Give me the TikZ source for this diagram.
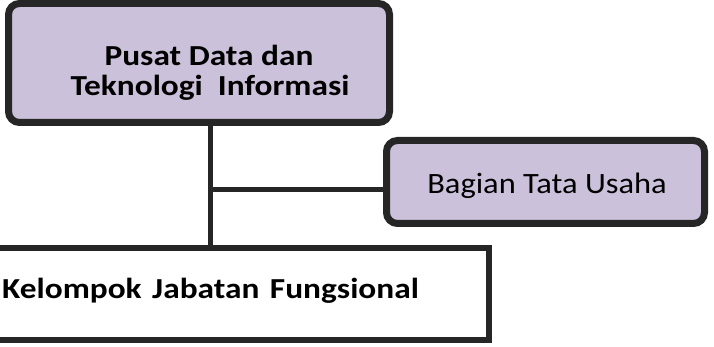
\documentclass[tikz,border=0pt]{standalone}
\usepackage{fontspec}
\setmainfont[FakeStretch=1.1,BoldFeatures={FakeStretch=1.15}]{Carlito}
\definecolor{boxfill}{HTML}{CCC1DA}
\definecolor{edge}{HTML}{262626}
\begin{document}
\begin{tikzpicture}[x=1pt,y=-1pt,
  purplebox/.style={draw=edge,fill=boxfill,line width=7pt,rounded corners=11pt,inner sep=0pt},
  whitebox/.style={draw=edge,fill=white,line width=5.5pt,inner sep=0pt},
  label/.style={inner sep=0pt,anchor=base},
  connector/.style={draw=edge,line width=5pt}]
\useasboundingbox (0,0) rectangle (714,347);
\node[purplebox,minimum width=381pt,minimum height=119pt] (pusat) at (199,63) {};
\node[purplebox,minimum width=318pt,minimum height=83pt] (tu) at (545.5,182) {};
\coordinate (top) at (210,122);
\coordinate (junction) at (210,190);
\coordinate (bottom) at (210,248);
\draw[connector] (top) -- (bottom);
\draw[connector] (junction) -- (tu.west |- junction);
\node[whitebox,minimum width=499pt,minimum height=92pt] (jf) at (239.5,294) {};
\node[label,font=\fontsize{29}{30}\bfseries] (pusat1) at (209,66) {Pusat Data dan};
\node[label,font=\fontsize{29}{30}\bfseries] (pusat2) at (210,95.5) {Teknologi\ \ Informasi};
\node[label,font=\fontsize{29.5}{30}\selectfont] (tutext) at (547,194) {Bagian Tata Usaha};
\node[label,anchor=base west,font=\fontsize{29}{30}\bfseries] (jftext) at (2,298) {Kelompok\ \hspace{3pt}Jabatan\ \hspace{3pt}Fungsional};
\end{tikzpicture}
\end{document}
